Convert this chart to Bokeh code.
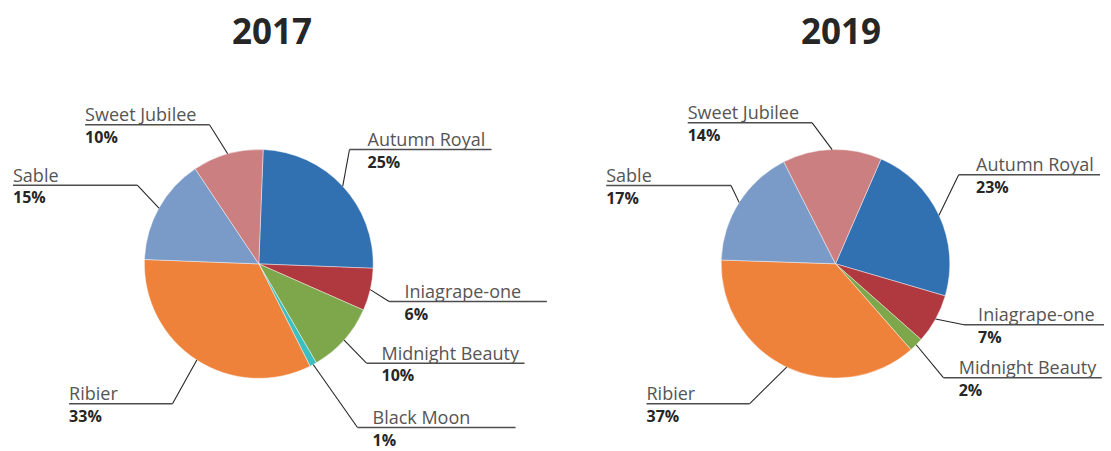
import math
from bokeh.plotting import figure
from bokeh.models import ColumnDataSource, Range1d
from bokeh.core.properties import value
from bokeh.embed import file_html
from bokeh.resources import INLINE

# ---------------- data ----------------
titles = ["2017", "2019"]
categories_2017 = ["Autumn Royal", "Iniagrape-one", "Midnight Beauty", "Black Moon",
                   "Ribier", "Sable", "Sweet Jubilee"]
values_2017 = [25, 6, 10, 1, 33, 15, 10]
categories_2019 = ["Autumn Royal", "Iniagrape-one", "Midnight Beauty",
                   "Ribier", "Sable", "Sweet Jubilee"]
values_2019 = [23, 7, 2, 37, 17, 14]

# ---------------- styles / layout ----------------
colors = {
    "Autumn Royal": "#3171b2",
    "Iniagrape-one": "#b0393f",
    "Midnight Beauty": "#7ea64b",
    "Black Moon": "#3cbfbe",
    "Ribier": "#ef823a",
    "Sable": "#7a9bc8",
    "Sweet Jubilee": "#cc7f80",
}

W, H = 1104, 449
PAGE_H = 451


def Y(py):
    return PAGE_H - py


# label layout in page pixels: text_x, underline_y, underline_x0, underline_x1
label_layout_2017 = {
    "Autumn Royal": (367, 149, 349, 491),
    "Iniagrape-one": (404, 301, 388.6, 546.4),
    "Midnight Beauty": (381, 362.7, 366, 524),
    "Black Moon": (372, 427, 357, 515),
    "Ribier": (68.6, 403.3, 68.6, 172),
    "Sable": (12.5, 184.7, 12.5, 136.8),
    "Sweet Jubilee": (84.6, 124.3, 84.6, 209),
}
label_layout_2019 = {
    "Autumn Royal": (975.5, 174.3, 958.2, 1099.5),
    "Iniagrape-one": (977.6, 324.3, 963.5, 1111),
    "Midnight Beauty": (958.2, 377.3, 943.1, 1101.3),
    "Ribier": (646, 403.3, 646, 749),
    "Sable": (605.7, 185, 605.7, 730.5),
    "Sweet Jubilee": (687.2, 122.3, 687.2, 811.7),
}

pies = [
    dict(title=titles[0], cats=categories_2017, vals=values_2017, cx=258.3, cy=263.4,
         r=114.4, start=2.2, title_x=271.5, layout=label_layout_2017),
    dict(title=titles[1], cats=categories_2019, vals=values_2019, cx=835.0, cy=263.3,
         r=114.3, start=23.5, title_x=840.5, layout=label_layout_2019),
]

FONT = value("Open Sans")

p = figure(width=W, height=H, x_range=Range1d(0, W),
           y_range=Range1d(PAGE_H - H, PAGE_H), min_border=0,
           toolbar_location=None, output_backend="svg",
           x_axis_location=None, y_axis_location=None)
p.grid.visible = False
p.outline_line_color = None
p.background_fill_color = "white"
p.border_fill_color = "white"

for pie in pies:
    total = float(sum(pie["vals"]))
    cum = pie["start"]
    starts, ends, mids = [], [], []
    for v in pie["vals"]:
        s = cum
        e = cum + v / total * 360.0
        starts.append(math.radians(90 - s))
        ends.append(math.radians(90 - e))
        mids.append((s + e) / 2.0)
        cum = e
    src = ColumnDataSource(dict(
        x=[pie["cx"]] * len(pie["vals"]), y=[Y(pie["cy"])] * len(pie["vals"]),
        sa=starts, ea=ends, color=[colors[c] for c in pie["cats"]],
        cat=pie["cats"], val=pie["vals"]))
    p.wedge(x="x", y="y", radius=pie["r"], start_angle="sa", end_angle="ea",
            direction="clock", fill_color="color", line_color="white",
            line_width=0.6, line_alpha=0.7, source=src)

    # leaders, underlines and labels
    lead_xs, lead_ys, ul_xs, ul_ys = [], [], [], []
    nx, ny, nt, px, py, pt = [], [], [], [], [], []
    for cat, v, m in zip(pie["cats"], pie["vals"], mids):
        tx, ly, x0, x1 = pie["layout"][cat]
        ex = pie["cx"] + pie["r"] * math.sin(math.radians(m))
        ey = pie["cy"] - pie["r"] * math.cos(math.radians(m))
        conn = x0 if tx > pie["cx"] else x1
        lead_xs.append([ex, conn])
        lead_ys.append([Y(ey), Y(ly)])
        ul_xs.append([x0, x1])
        ul_ys.append([Y(ly), Y(ly)])
        nx.append(tx)
        ny.append(Y(ly - 10.5))
        nt.append(cat)
        px.append(tx)
        py.append(Y(ly + 12))
        pt.append(f"{v}%")
    p.multi_line(xs=lead_xs, ys=lead_ys, line_color="#262626", line_width=1.1)
    p.multi_line(xs=ul_xs, ys=ul_ys, line_color="#4d4d4d", line_width=1.6)
    p.text(x=nx, y=ny, text=nt, text_font=FONT, text_font_size="18px",
           text_color="#555555", text_baseline="alphabetic", text_align="left")
    p.text(x=px, y=py, text=pt, text_font=FONT, text_font_size="16px",
           text_font_style="bold", text_color="#262626",
           text_baseline="alphabetic", text_align="left")
    p.text(x=[pie["title_x"]], y=[Y(30.5)], text=[pie["title"]], text_font=FONT,
           text_font_size="35px", text_font_style="bold", text_color="#262626",
           text_baseline="alphabetic", text_align="center")

open("out.html", "w").write(file_html(p, INLINE))
